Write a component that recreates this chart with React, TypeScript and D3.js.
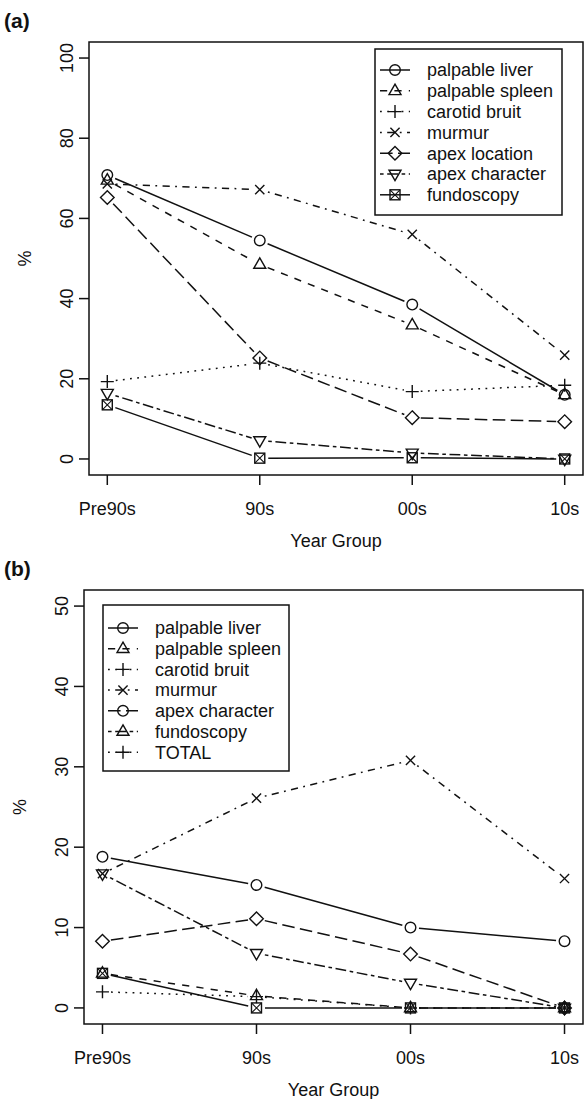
import React from "react";
import * as d3 from "d3";

// ---------- data ----------
const yearGroups = ["Pre90s", "90s", "00s", "10s"];
const seriesNames = [
  "palpable liver",
  "palpable spleen",
  "carotid bruit",
  "murmur",
  "apex location",
  "apex character",
  "fundoscopy",
];
// R pch / lty codes for each series
const seriesPch = [1, 2, 3, 4, 5, 6, 7];
const seriesLty = [1, 2, 3, 4, 5, 6, 1];

// panel (a)
const aLiver = [70.8, 54.5, 38.5, 16.0];
const aSpleen = [69.5, 48.5, 33.4, 16.0];
const aCarotid = [19.3, 23.9, 16.8, 18.4];
const aMurmur = [68.6, 67.2, 56.0, 25.9];
const aApexLoc = [65.2, 25.2, 10.3, 9.3];
const aApexChar = [16.4, 4.6, 1.5, 0];
const aFundo = [13.5, 0.2, 0.3, 0];

// panel (b)
const bLiver = [18.8, 15.3, 10.0, 8.3];
const bSpleen = [4.3, 1.5, 0, 0];
const bCarotid = [2.0, 1.4, 0, 0];
const bMurmur = [16.7, 26.1, 30.8, 16.1];
const bApexLoc = [8.3, 11.1, 6.7, 0];
const bApexChar = [16.7, 6.8, 3.1, 0];
const bFundo = [4.3, 0, 0, 0];

const aTicks = [0, 20, 40, 60, 80, 100];
const bTicks = [0, 10, 20, 30, 40, 50];

const legendALabels = seriesNames;
const legendAPch = [1, 2, 3, 4, 5, 6, 7];
const legendALty = [1, 2, 3, 4, 5, 6, 1];

const legendBLabels = [
  "palpable liver",
  "palpable spleen",
  "carotid bruit",
  "murmur",
  "apex character",
  "fundoscopy",
  "TOTAL",
];
const legendBPch = [1, 2, 3, 4, 1, 2, 3];
const legendBLty = [1, 2, 3, 4, 5, 6, 3];

// ---------- styling helpers ----------
const FONT = "'Liberation Sans', Arial, Helvetica, sans-serif";
const INK = "#111";
const LW = 1.5;

const dashFor = (lty: number): string | undefined => {
  const s = 1.8;
  const map: Record<number, number[] | null> = {
    1: null,
    2: [4, 4],
    3: [1, 3],
    4: [1, 3, 4, 3],
    5: [7, 3],
    6: [2, 2, 6, 2],
  };
  const p = map[lty];
  return p ? p.map((v) => v * s).join(" ") : undefined;
};

function Marker({ pch, x, y }: { pch: number; x: number; y: number }) {
  const common = { fill: "none", stroke: INK, strokeWidth: 1.4 };
  switch (pch) {
    case 1:
      return <circle cx={x} cy={y} r={5.3} {...common} />;
    case 2:
      return (
        <path
          d={`M${x},${y - 6.6}L${x + 6},${y + 3.8}L${x - 6},${y + 3.8}Z`}
          {...common}
        />
      );
    case 3:
      return (
        <path
          d={`M${x - 6.5},${y}H${x + 6.5}M${x},${y - 6.5}V${y + 6.5}`}
          {...common}
        />
      );
    case 4:
      return (
        <path
          d={`M${x - 4.6},${y - 4.6}L${x + 4.6},${y + 4.6}M${x - 4.6},${y + 4.6}L${x + 4.6},${y - 4.6}`}
          {...common}
        />
      );
    case 5:
      return (
        <path
          d={`M${x},${y - 6.8}L${x + 6.8},${y}L${x},${y + 6.8}L${x - 6.8},${y}Z`}
          {...common}
        />
      );
    case 6:
      return (
        <path
          d={`M${x},${y + 6.6}L${x + 6},${y - 3.8}L${x - 6},${y - 3.8}Z`}
          {...common}
        />
      );
    case 7:
      return (
        <g>
          <rect x={x - 5} y={y - 5} width={10} height={10} {...common} />
          <path
            d={`M${x - 5},${y - 5}L${x + 5},${y + 5}M${x - 5},${y + 5}L${x + 5},${y - 5}`}
            {...common}
            strokeWidth={1.1}
          />
        </g>
      );
    default:
      return null;
  }
}

type PanelProps = {
  label: string;
  left: number;
  right: number;
  top: number;
  bottom: number;
  yDomain: [number, number];
  yTicks: number[];
  series: number[][];
  legendLabels: string[];
  legendPch: number[];
  legendLty: number[];
  legendBox: { x0: number; x1: number; y0: number; y1: number; row0: number; rowH: number };
  labelY: number;
};

function Panel(p: PanelProps) {
  const x = d3.scalePoint<string>().domain(yearGroups).range([p.left, p.right]).padding(0.12);
  const y = d3.scaleLinear().domain(p.yDomain).range([p.bottom, p.top]);
  const gap = 8.5;

  const segs = (vals: number[]) => {
    const pts = vals.map((v, i) => [x(yearGroups[i]) as number, y(v)] as [number, number]);
    const out: [number, number][][] = [];
    for (let i = 0; i < pts.length - 1; i++) {
      const [x1, y1] = pts[i];
      const [x2, y2] = pts[i + 1];
      const dx = x2 - x1;
      const dy = y2 - y1;
      const len = Math.hypot(dx, dy);
      if (len <= 2 * gap) continue;
      const ux = dx / len;
      const uy = dy / len;
      out.push([
        [x1 + ux * gap, y1 + uy * gap],
        [x2 - ux * gap, y2 - uy * gap],
      ]);
    }
    return out;
  };
  const line = d3.line<[number, number]>();
  const lb = p.legendBox;
  const legSymX = lb.x0 + 20;
  const legTextX = lb.x0 + 52;

  return (
    <g>
      <text x={4} y={p.labelY} fontFamily={FONT} fontSize={21} fontWeight="bold" fill={INK}>
        {p.label}
      </text>
      {/* plot box */}
      <rect
        x={p.left}
        y={p.top}
        width={p.right - p.left}
        height={p.bottom - p.top}
        fill="none"
        stroke={INK}
        strokeWidth={LW}
      />
      {/* y axis */}
      {p.yTicks.map((t) => (
        <g key={"y" + t}>
          <line x1={p.left - 10} x2={p.left} y1={y(t)} y2={y(t)} stroke={INK} strokeWidth={LW} />
          <text
            transform={`translate(${p.left - 16},${y(t)}) rotate(-90)`}
            textAnchor="middle"
            fontFamily={FONT}
            fontSize={18}
            fill={INK}
          >
            {t}
          </text>
        </g>
      ))}
      <text
        transform={`translate(${p.left - 58},${(p.top + p.bottom) / 2}) rotate(-90)`}
        textAnchor="middle"
        fontFamily={FONT}
        fontSize={18}
        fill={INK}
      >
        %
      </text>
      {/* x axis */}
      {yearGroups.map((g) => (
        <g key={g}>
          <line
            x1={x(g)}
            x2={x(g)}
            y1={p.bottom}
            y2={p.bottom + 10}
            stroke={INK}
            strokeWidth={LW}
          />
          <text
            x={x(g)}
            y={p.bottom + 40}
            textAnchor="middle"
            fontFamily={FONT}
            fontSize={18}
            fill={INK}
          >
            {g}
          </text>
        </g>
      ))}
      <text
        x={(p.left + p.right) / 2}
        y={p.bottom + 72}
        textAnchor="middle"
        fontFamily={FONT}
        fontSize={18}
        fill={INK}
      >
        Year Group
      </text>
      {/* series */}
      {p.series.map((vals, si) => (
        <g key={"s" + si}>
          {segs(vals).map((s, k) => (
            <path
              key={k}
              d={line(s) || ""}
              fill="none"
              stroke={INK}
              strokeWidth={LW}
              strokeDasharray={dashFor(seriesLty[si])}
            />
          ))}
          {vals.map((v, i) => (
            <Marker key={i} pch={seriesPch[si]} x={x(yearGroups[i]) as number} y={y(v)} />
          ))}
        </g>
      ))}
      {/* legend */}
      <rect
        x={lb.x0}
        y={lb.y0}
        width={lb.x1 - lb.x0}
        height={lb.y1 - lb.y0}
        fill="white"
        stroke={INK}
        strokeWidth={LW}
      />
      {p.legendLabels.map((lab, i) => {
        const ry = lb.row0 + i * lb.rowH;
        return (
          <g key={"l" + i}>
            <line
              x1={legSymX - 15}
              x2={legSymX + 15}
              y1={ry}
              y2={ry}
              stroke={INK}
              strokeWidth={LW}
              strokeDasharray={dashFor(p.legendLty[i])}
            />
            <Marker pch={p.legendPch[i]} x={legSymX} y={ry} />
            <text x={legTextX} y={ry} dy="0.35em" fontFamily={FONT} fontSize={18} fill={INK}>
              {lab}
            </text>
          </g>
        );
      })}
    </g>
  );
}

export default function App() {
  return (
    <svg
      width={584}
      height={1099}
      style={{ position: "absolute", left: 0, top: 0, background: "white" }}
    >
      <rect x={0} y={0} width={584} height={1099} fill="white" />
      <Panel
        label="(a)"
        left={89}
        right={583}
        top={42}
        bottom={475}
        yDomain={[-4, 104]}
        yTicks={aTicks}
        series={[aLiver, aSpleen, aCarotid, aMurmur, aApexLoc, aApexChar, aFundo]}
        legendLabels={legendALabels}
        legendPch={legendAPch}
        legendLty={legendALty}
        legendBox={{ x0: 375, x1: 562, y0: 49, y1: 215, row0: 70, rowH: 20.8 }}
        labelY={28}
      />
      <Panel
        label="(b)"
        left={84}
        right={583}
        top={590}
        bottom={1024}
        yDomain={[-2, 52]}
        yTicks={bTicks}
        series={[bLiver, bSpleen, bCarotid, bMurmur, bApexLoc, bApexChar, bFundo]}
        legendLabels={legendBLabels}
        legendPch={legendBPch}
        legendLty={legendBLty}
        legendBox={{ x0: 103, x1: 289, y0: 605, y1: 771, row0: 628, rowH: 20.7 }}
        labelY={576}
      />
    </svg>
  );
}
